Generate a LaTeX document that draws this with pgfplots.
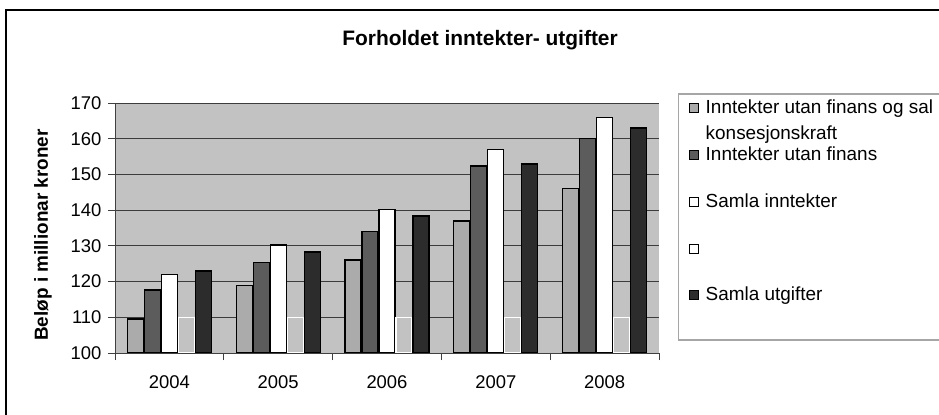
\documentclass[border=0pt]{standalone}
\usepackage{fontspec}
\setmainfont{Liberation Sans}
\usepackage{pgfplots}
\pgfplotsset{compat=1.18}
\definecolor{bggray}{HTML}{C2C2C2}
\definecolor{lightbar}{HTML}{ABABAB}
\definecolor{midbar}{HTML}{5C5C5C}
\definecolor{darkbar}{HTML}{2C2C2C}
\definecolor{gridgray}{HTML}{3C3C3C}
\pgfplotsset{
  sq legend/.style={legend image code/.code={\draw[##1,line width=1bp] (0bp,1bp) rectangle (9bp,10bp);}},
  sq legend white/.style={legend image code/.code={\draw[##1,line width=1bp,draw=black,fill=white] (0bp,1bp) rectangle (9bp,10bp);}},
}
\begin{document}
\begin{tikzpicture}
\useasboundingbox (0,0) rectangle (939bp,415bp);
\clip (0,0) rectangle (939bp,415bp);
\draw[line width=1.5bp] (6bp,0) -- (6bp,405bp) -- (945bp,405bp);
\begin{axis}[
  at={(115bp,62bp)}, anchor=south west,
  scale only axis, width=544bp, height=250bp,
  ybar=1bp, bar width=16bp,
  xmin=-0.5, xmax=4.5, ymin=100, ymax=170,
  axis background/.style={fill=bggray},
  axis lines*=left,
  axis line style={-, draw=black!75, line width=1bp},
  ytick={100,110,...,170},
  ymajorgrids, grid style={gridgray, line width=1bp},
  xtick={-0.5,0.5,1.5,2.5,3.5,4.5}, xticklabels={},
  extra x ticks={0,1,2,3,4},
  extra x tick labels={2004,2005,2006,2007,2008},
  extra x tick style={major tick length=0pt, grid=none},
  tick align=outside, tick pos=left, major tick length=7bp,
  tick style={black!75, line width=1bp},
  /pgf/number format/assume math mode=true,
  /pgf/number format/1000 sep={},
  tick label style={font=\fontsize{18.5}{20}\selectfont},
  yticklabel style={xshift=-3bp},
  xticklabel style={yshift=-19bp},
  title={Forholdet inntekter- utgifter},
  title style={font=\bfseries\fontsize{21}{24}\selectfont, at={(axis description cs:0.671,1.228)}, anchor=center},
  ylabel={Beløp i millionar kroner},
  ylabel style={font=\bfseries\fontsize{19}{22}\selectfont, at={(axis description cs:-0.1324,0.472)}, anchor=center},
  legend style={at={(axis description cs:1.0349,1.04)}, anchor=north west,
    draw=gray!70, line width=1.5bp, fill=white,
    inner xsep=10bp, inner ysep=0pt, row sep=0pt, column sep=7bp,
    minimum height=246bp,
    font=\fontsize{19}{26}\selectfont,
    cells={anchor=base west},
    nodes={inner sep=0pt, minimum height=0pt, text height=13.88bp, text depth=32.87bp}},
]
\addplot[fill=lightbar, draw=black, line width=1.3bp, sq legend] coordinates {(0,109.5) (1,118.9) (2,126) (3,137) (4,146)};
\addlegendentry{\begin{tabular}[t]{@{}l@{}}Inntekter utan finans og sal\\konsesjonskraft\end{tabular}}
\addplot[fill=midbar, draw=black, line width=1.3bp, sq legend] coordinates {(0,117.6) (1,125.3) (2,134.1) (3,152.4) (4,160)};
\addlegendentry{Inntekter utan finans}
\addplot[fill=white, draw=black, line width=1.3bp, sq legend] coordinates {(0,122) (1,130.2) (2,140.2) (3,156.9) (4,166)};
\addlegendentry{Samla inntekter}
\addplot[fill=bggray, draw=white, line width=1.3bp, sq legend white] coordinates {(0,110) (1,110) (2,110) (3,110) (4,110)};
\addlegendentry{}
\addplot[fill=darkbar, draw=black, line width=1.3bp, sq legend] coordinates {(0,123) (1,128.3) (2,138.4) (3,152.9) (4,163)};
\addlegendentry{Samla utgifter}
\end{axis}
\end{tikzpicture}
\end{document}
